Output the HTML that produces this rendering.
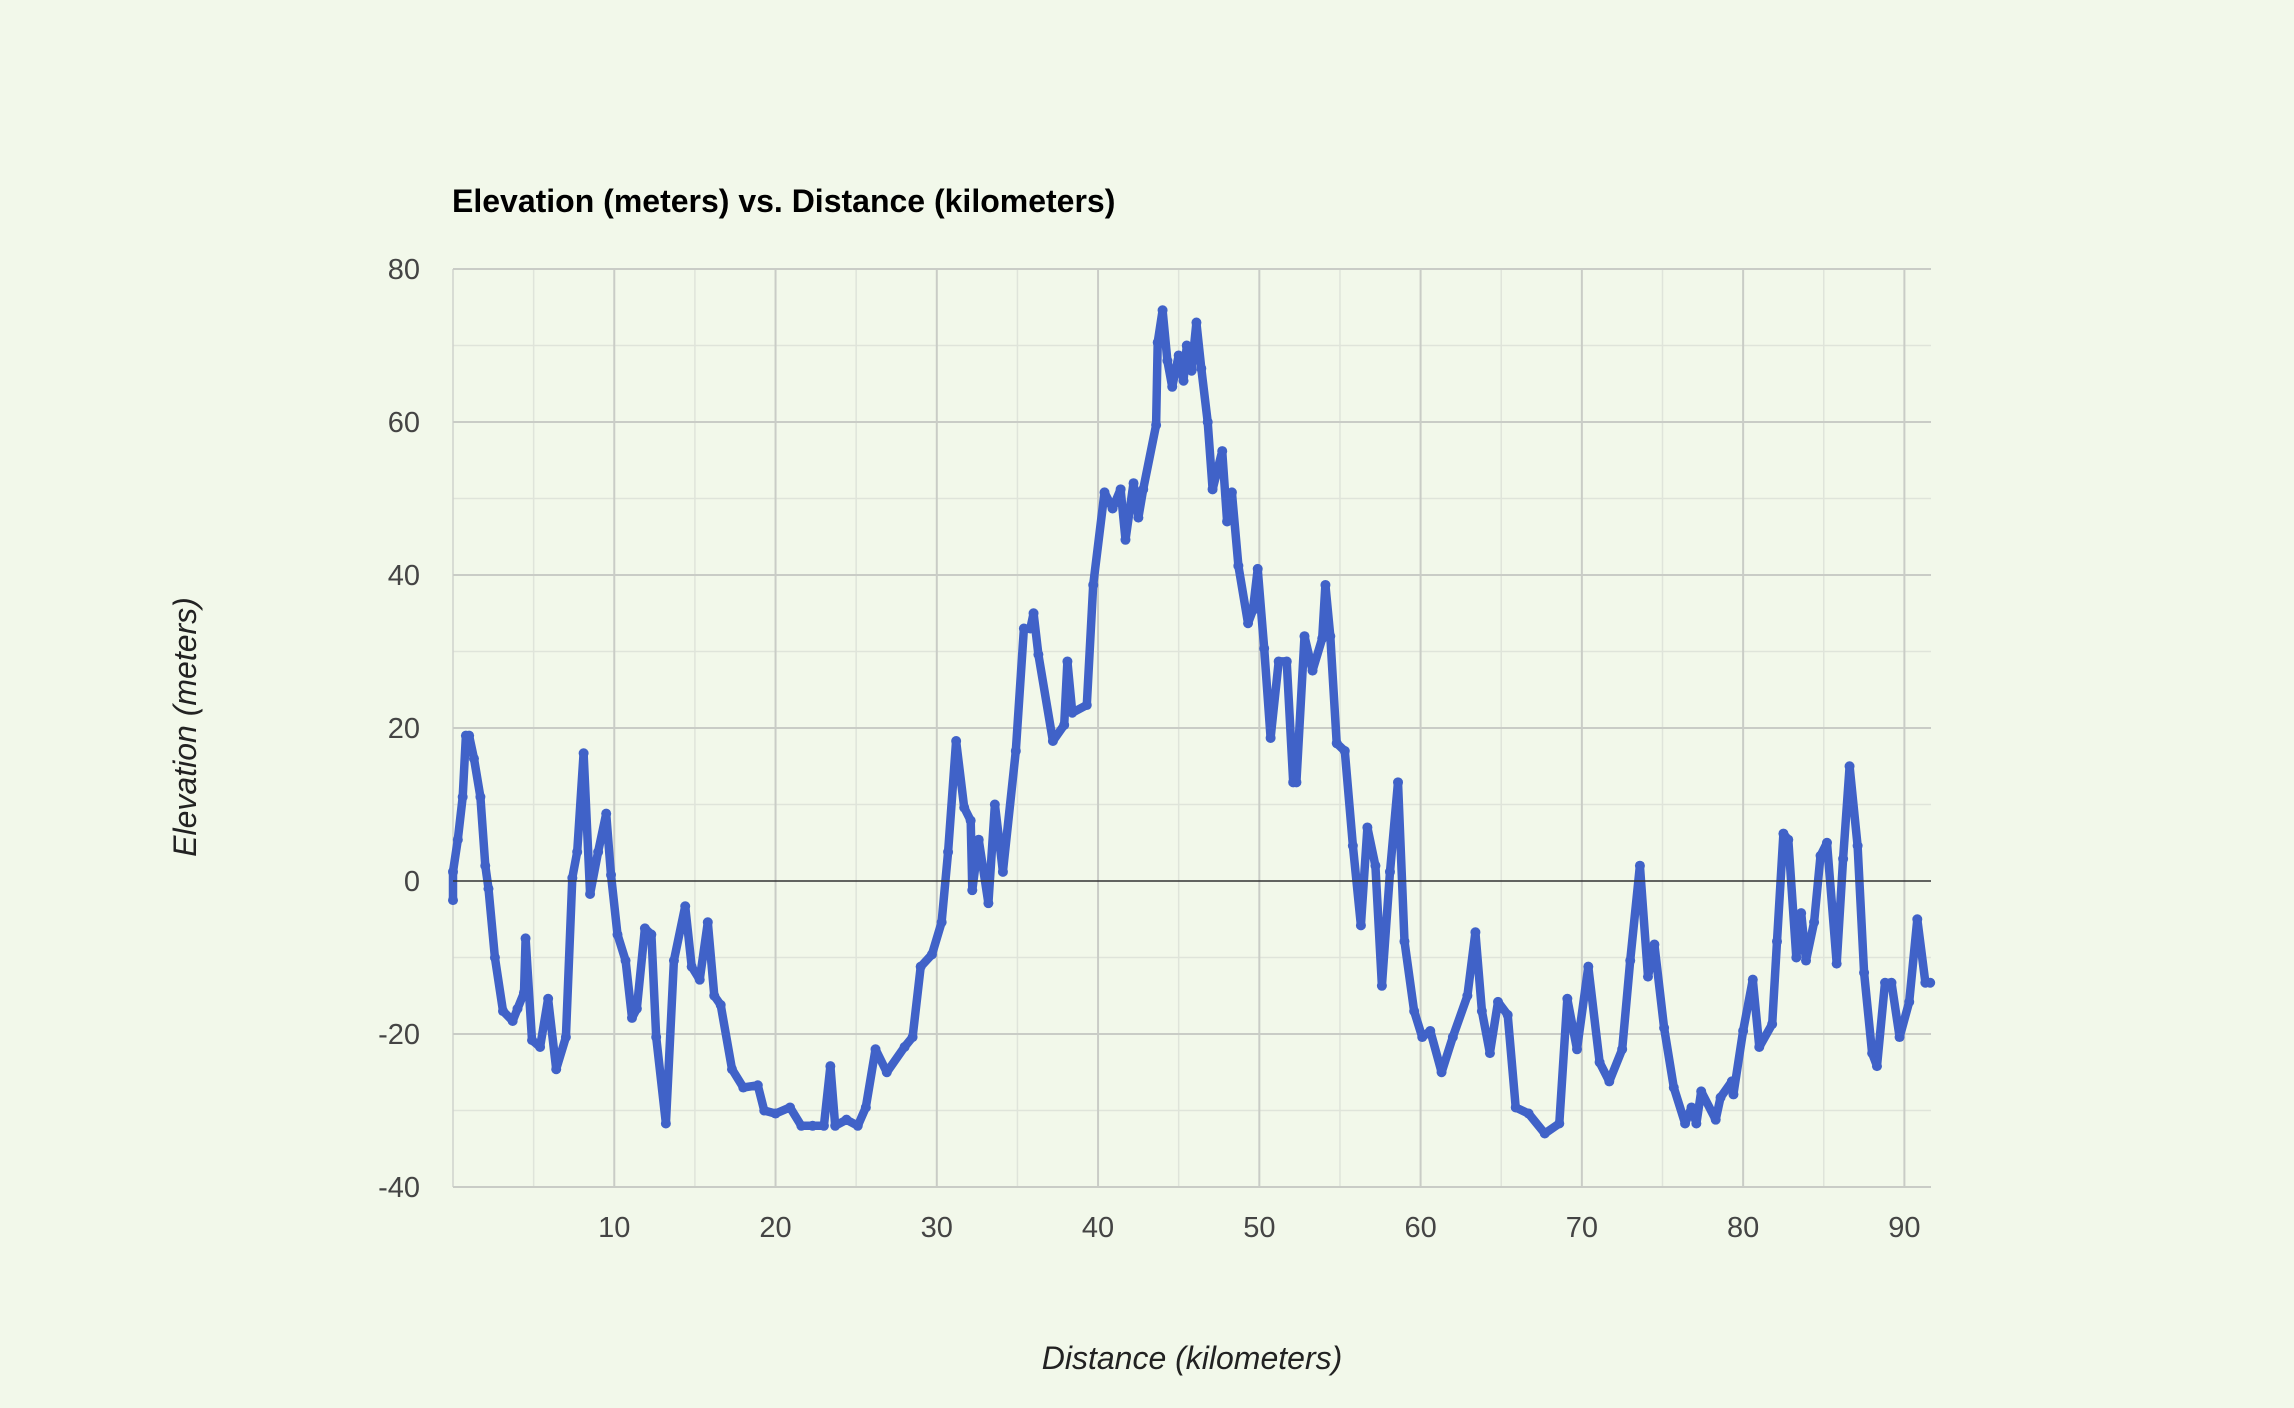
<!DOCTYPE html>
<html><head><meta charset="utf-8">
<style>
html,body{margin:0;padding:0;background:#f2f8ea;}
svg{display:block;font-family:"Liberation Sans",Arial,sans-serif;}
</style></head>
<body>
<svg id="chart" width="2294" height="1408" viewBox="0 0 2294 1408">
<rect x="0" y="0" width="2294" height="1408" fill="#f2f8ea"/>
<text x="452" y="212" font-size="32" font-weight="bold" fill="#000">Elevation (meters) vs. Distance (kilometers)</text>
<g id="grid"></g>
<g id="series"></g>
<g id="axes"></g>
<text x="1192" y="1369" font-size="32" font-style="italic" fill="#222" text-anchor="middle">Distance (kilometers)</text>
<text transform="translate(196,727) rotate(-90)" font-size="32" font-style="italic" fill="#222" text-anchor="middle">Elevation (meters)</text>
</svg>
<script>
const distances = [0,0,0.3,0.6,0.8,1.0,1.3,1.7,2.0,2.2,2.6,3.1,3.7,4.0,4.4,4.5,4.9,5.4,5.9,6.4,7.0,7.4,7.7,8.1,8.5,9.0,9.5,9.8,10.2,10.7,11.1,11.4,11.9,12.3,12.6,13.2,13.7,14.4,14.8,15.3,15.8,16.2,16.6,17.3,18.0,18.9,19.3,20.0,20.9,21.6,22.3,23.0,23.4,23.7,24.4,25.1,25.6,26.2,26.9,28.0,28.5,29.0,29.7,30.3,30.7,31.2,31.7,32.1,32.2,32.6,33.2,33.6,34.1,34.9,35.4,35.8,36.0,36.3,37.2,37.9,38.1,38.4,39.3,39.7,40.4,40.9,41.4,41.7,42.2,42.5,42.8,43.6,43.7,44.0,44.3,44.6,45.0,45.3,45.5,45.8,46.1,46.4,46.8,47.1,47.7,48.0,48.3,48.7,49.3,49.6,49.9,50.3,50.7,51.2,51.7,52.1,52.3,52.8,53.3,53.9,54.1,54.4,54.8,55.3,55.8,56.3,56.7,57.2,57.6,58.1,58.6,59.0,59.6,60.1,60.6,61.3,62.0,62.9,63.4,63.8,64.3,64.8,65.4,65.9,66.7,67.7,68.6,69.1,69.7,70.4,71.1,71.7,72.5,73.0,73.6,74.1,74.5,75.1,75.7,76.4,76.8,77.1,77.4,78.3,78.6,79.3,79.4,80.0,80.6,81.0,81.8,82.1,82.5,82.8,83.3,83.6,83.9,84.4,84.8,85.2,85.8,86.2,86.6,87.1,87.5,88.0,88.3,88.8,89.2,89.7,90.3,90.8,91.3,91.6];
const elevations = [-2.5,1.2,5.4,11,19,19,16,11,2,-1,-10,-17,-18.3,-16.7,-14.6,-7.5,-20.8,-21.7,-15.4,-24.6,-20.4,0.4,3.8,16.7,-1.7,3.8,8.8,0.8,-7,-10.4,-17.9,-16.7,-6.2,-7,-20.4,-31.7,-10.4,-3.3,-11.2,-12.9,-5.4,-15,-16.2,-24.6,-27,-26.7,-30,-30.4,-29.6,-32,-32,-32,-24.2,-32,-31.2,-32,-29.6,-22,-25,-21.7,-20.4,-11.2,-9.6,-5.4,3.8,18.3,9.6,7.9,-1.2,5.4,-2.9,10,1.2,17,33,33,35,29.6,18.3,20.4,28.7,22,23,38.7,50.8,48.7,51.2,44.6,52,47.5,51.2,59.6,70.4,74.6,68,64.6,68.7,65.4,70,66.7,73,67,60,51.2,56.2,47,50.8,41.2,33.7,35.4,40.8,30.4,18.7,28.7,28.7,12.9,12.9,32,27.5,31.7,38.7,32,18,17,4.6,-5.8,7,2,-13.7,1.2,12.9,-7.9,-17,-20.4,-19.6,-25,-20.4,-15,-6.7,-17,-22.5,-15.8,-17.5,-29.6,-30.4,-33,-31.7,-15.4,-22,-11.2,-23.7,-26.2,-22,-10.4,2,-12.5,-8.3,-19.2,-27,-31.7,-29.6,-31.7,-27.5,-31.2,-28.3,-26.2,-27.9,-19.6,-12.9,-21.7,-18.7,-7.9,6.2,5.4,-10,-4.2,-10.4,-5.4,3.3,5,-10.8,2.9,15,4.6,-12,-22.5,-24.2,-13.3,-13.3,-20.4,-15.8,-5,-13.3,-13.3];
const xTicks = [10,20,30,40,50,60,70,80,90];
const yTicks = [80,60,40,20,0,-20,-40];

const NS = "http://www.w3.org/2000/svg";
const L = 453, R = 1931, T = 269, B = 1187;
const xMin = 0, xMax = 91.65, yMin = -40, yMax = 80;
function xs(v){ return L + (v - xMin) / (xMax - xMin) * (R - L); }
function ys(v){ return B - (v - yMin) / (yMax - yMin) * (B - T); }
function mk(tag, attrs, parent){ const e = document.createElementNS(NS, tag); for (const k in attrs) e.setAttribute(k, attrs[k]); parent.appendChild(e); return e; }

const grid = document.getElementById('grid');
const axes = document.getElementById('axes');
const series = document.getElementById('series');

for (let v = 5; v < xMax; v += 10) {
  const ln = mk('line', {x1: xs(v), x2: xs(v), y1: T, y2: B, stroke: '#dfe4da', 'stroke-width': 1.5}, grid);
  
  
}
for (let v = yMin + 10; v < yMax; v += 20) {
  const ln = mk('line', {x1: L, x2: R, y1: ys(v), y2: ys(v), stroke: '#dfe4da', 'stroke-width': 1.5}, grid);
  
  
}
const lb = mk('line', {x1: L, x2: L, y1: T, y2: B, stroke: '#cfd2cc', 'stroke-width': 1.5}, grid);



xTicks.forEach(v => {
  const ln = mk('line', {x1: xs(v), x2: xs(v), y1: T, y2: B, stroke: '#c9ccc6', 'stroke-width': 2}, grid);
  
  
  const t = mk('text', {x: xs(v), y: 1237, 'font-size': 29, fill: '#444', 'text-anchor': 'middle'}, axes);
  t.textContent = v;
  
  
});
yTicks.forEach(v => {
  const ln = mk('line', {x1: L, x2: R, y1: ys(v), y2: ys(v), stroke: v === 0 ? '#333' : '#c9ccc6', 'stroke-width': v === 0 ? 1.5 : 2}, v === 0 ? axes : grid);
  
  
  const t = mk('text', {x: 420, y: ys(v) + 10, 'font-size': 29, fill: '#444', 'text-anchor': 'end'}, axes);
  t.textContent = v;
  
  
});

const pts = distances.map((d, i) => xs(d).toFixed(1) + ',' + ys(elevations[i]).toFixed(1)).join(' ');
const line = mk('polyline', {points: pts, fill: 'none', stroke: '#4062c8', 'stroke-width': 8.5, 'stroke-linejoin': 'round', 'stroke-linecap': 'round'}, series);


distances.forEach((d, i) => {
  const c = mk('circle', {cx: xs(d), cy: ys(elevations[i]), r: 5, fill: '#4062c8'}, series);
  
  
});
</script>
</body></html>
